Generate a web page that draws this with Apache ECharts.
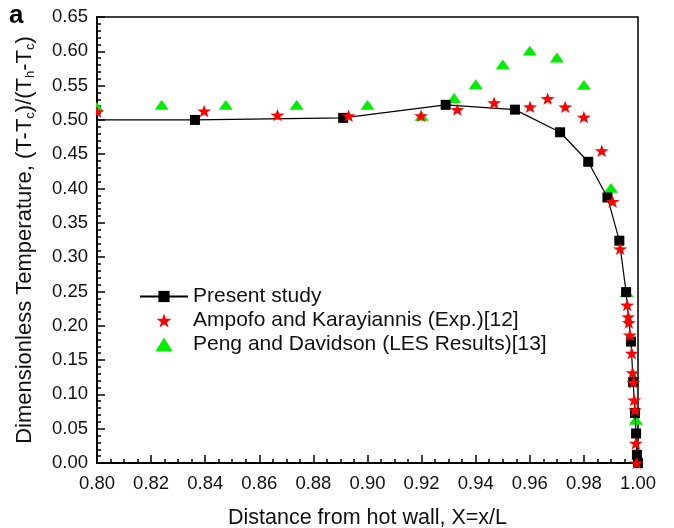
<!DOCTYPE html>
<html><head><meta charset="utf-8">
<script src="https://cdn.jsdelivr.net/npm/echarts@6/dist/echarts.min.js"></script>
<style>html,body{margin:0;padding:0;background:#fff}#c{width:674px;height:528px}</style>
</head><body><div id="c"></div>
<script>
const presentStudy = [[0.76,0.500],[0.8362,0.500],[0.891,0.503],[0.9289,0.522],[0.9545,0.515],[0.9712,0.482],[0.9816,0.439],[0.9887,0.387],[0.9931,0.324],[0.9956,0.249],[0.9974,0.177],[0.9982,0.118],[0.9989,0.073],[0.9993,0.043],[0.9996,0.012],[1.0,0.0]];
const ampofo = [[0.800,0.512],[0.8396,0.513],[0.8667,0.507],[0.893,0.506],[0.9198,0.506],[0.9332,0.515],[0.9468,0.525],[0.9601,0.519],[0.9666,0.531],[0.9731,0.519],[0.980,0.504],[0.9866,0.455],[0.9906,0.381],[0.9934,0.312],[0.9960,0.230],[0.9964,0.213],[0.9966,0.2045],[0.9970,0.1866],[0.9977,0.160],[0.9980,0.1316],[0.9983,0.1175],[0.9986,0.0918],[0.9989,0.0773],[0.9992,0.0287],[0.9995,0.0]];
const peng = [[0.800,0.519],[0.8239,0.522],[0.8476,0.522],[0.8738,0.522],[0.900,0.522],[0.920,0.506],[0.932,0.532],[0.940,0.552],[0.950,0.581],[0.960,0.601],[0.970,0.591],[0.980,0.551],[0.990,0.401],[0.9958,0.249],[0.9992,0.063]];
const seriesNames = ['Present study','Ampofo and Karayiannis (Exp.)[12]','Peng and Davidson (LES Results)[13]'];
const xTitle = 'Distance from hot wall, X=x/L';
const yTitle = 'Dimensionless Temperature, (T-T{s|c})/(T{s|h}-T{s|c})';

const STAR = 'path://M0,-10 L2.35,-3.24 L9.51,-3.09 L3.80,1.24 L5.88,8.09 L0,4 L-5.88,8.09 L-3.80,1.24 L-9.51,-3.09 L-2.35,-3.24 Z';
const TRI = 'path://M0,-10 L11,8 L-11,8 Z';
const FONT = 'Liberation Sans';
const chart = echarts.init(document.getElementById('c'));
chart.setOption({
  animation:false,
  backgroundColor:'#fff',
  textStyle:{fontFamily:FONT},
  grid:{left:97,right:36,top:17,bottom:65,containLabel:false,outerBoundsMode:'none',show:true,borderColor:'#000',borderWidth:1.5,backgroundColor:'transparent'},
  xAxis:{type:'value',min:0.8,max:1.0,interval:0.02,
    axisLine:{show:true,lineStyle:{color:'#000',width:2}},
    axisTick:{show:true,inside:true,length:8,lineStyle:{color:'#000',width:1.5}},
    minorTick:{show:true,splitNumber:4,length:4,lineStyle:{color:'#000',width:1.5}},
    splitLine:{show:false},
    axisLabel:{color:'#111',fontSize:18.5,fontFamily:FONT,margin:11,formatter:v=>v.toFixed(2)},
    name:xTitle,nameLocation:'middle',nameGap:44,
    nameTextStyle:{color:'#111',fontSize:21.5,fontFamily:FONT}},
  yAxis:{type:'value',min:0,max:0.65,interval:0.05,
    axisLine:{show:true,lineStyle:{color:'#000',width:2}},
    axisTick:{show:true,inside:true,length:8,lineStyle:{color:'#000',width:1.5}},
    minorTick:{show:true,splitNumber:5,length:4,lineStyle:{color:'#000',width:1.5}},
    splitLine:{show:false},
    axisLabel:{color:'#111',fontSize:18.5,fontFamily:FONT,margin:9,formatter:v=>v.toFixed(2)},
    name:yTitle,nameLocation:'middle',nameGap:60,
    nameTextStyle:{color:'#111',fontSize:22,fontFamily:FONT,
      rich:{s:{fontSize:13,fontFamily:FONT,color:'#111',verticalAlign:'bottom',padding:[11,0,0,0]}}}},
  legend:{orient:'vertical',left:134,top:281,itemWidth:48,itemHeight:14,itemGap:3,
    textStyle:{color:'#111',fontSize:21,fontFamily:FONT},
    data:seriesNames},
  graphic:[
    {type:'text',left:9,top:3,style:{text:'a',fontSize:26,fontWeight:'bold',fontFamily:FONT,fill:'#000'}},
    {type:'rect',z:100,shape:{x:89,y:90,width:7,height:35},style:{fill:'#fff'}}
  ],
  series:[
    {name:seriesNames[0],type:'line',data:presentStudy,symbol:'rect',symbolSize:10,
      itemStyle:{color:'#000'},lineStyle:{color:'#000',width:1.2},z:3},
    {name:seriesNames[1],type:'scatter',data:ampofo,symbol:STAR,symbolSize:[14,13],symbolKeepAspect:true,
      itemStyle:{color:'#ff0000',opacity:1},z:4},
    {name:seriesNames[2],type:'scatter',data:peng,symbol:TRI,symbolSize:[14,12],symbolKeepAspect:true,
      itemStyle:{color:'#00ee00',opacity:1},z:2}
  ]
});
</script></body></html>
